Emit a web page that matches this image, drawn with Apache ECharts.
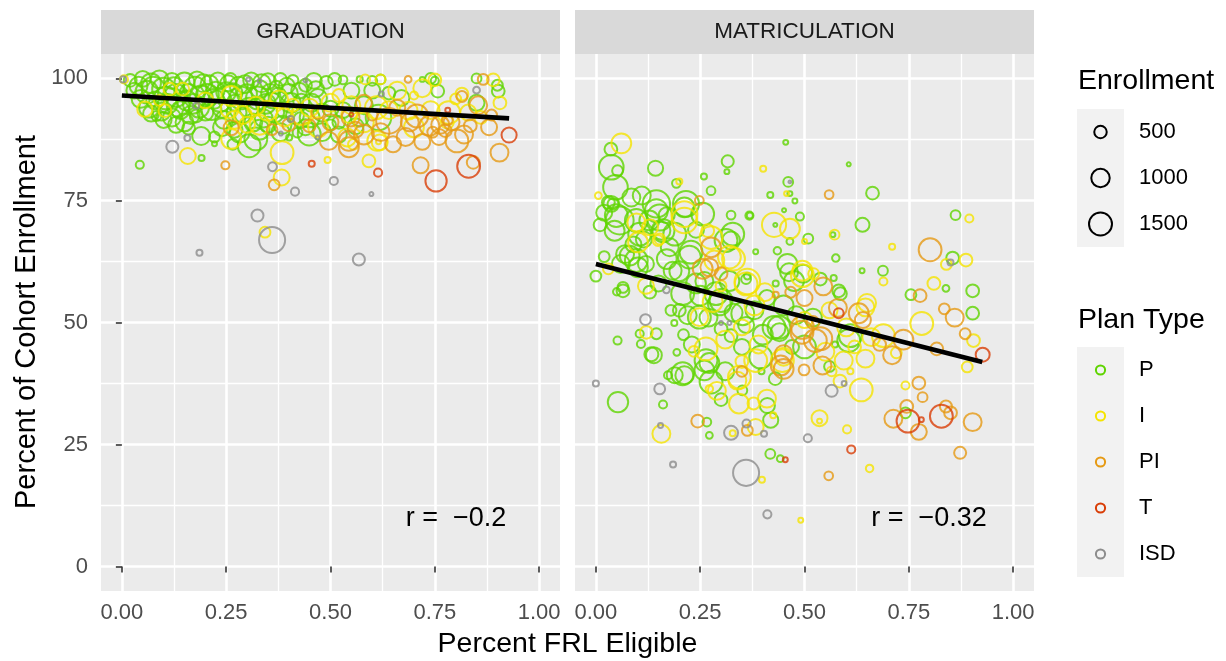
<!DOCTYPE html>
<html><head><meta charset="utf-8">
<script src="https://cdn.jsdelivr.net/npm/echarts@6/dist/echarts.min.js"></script>
<style>html,body{margin:0;padding:0;background:#fff;}#c{width:1226px;height:661px;}</style>
</head><body><div id="c"></div>
<script>
// ---------- data ----------
const panels = ['GRADUATION', 'MATRICULATION'];
const planTypes = ['P', 'I', 'PI', 'T', 'ISD'];
const xTicks = [0, 0.25, 0.5, 0.75, 1];
const xMinorTicks = [0.125, 0.375, 0.625, 0.875];
const yTicks = [0, 25, 50, 75, 100];
const yMinorTicks = [12.5, 37.5, 62.5, 87.5];
const sizeBreaks = [500, 1000, 1500];
const rValues = [-0.2, -0.32];

// [percent FRL eligible, percent of cohort, enrollment]
const gradP = [[0.02,99.6,520],[0.04,98.5,950],[0.05,99.9,770],[0.06,97.2,1480],[0.07,99.0,1140],[0.08,95.5,950],[0.09,99.8,950],[0.10,97.8,1480],[0.11,94.8,1140],[0.12,99.5,770],[0.13,96.5,1480],[0.14,93.5,950],[0.15,99.2,1140],[0.16,97.0,950],[0.17,94.8,1140],[0.18,99.8,770],[0.19,96.2,1480],[0.20,93.0,770],[0.21,98.8,950],[0.22,95.8,1140],[0.23,99.6,770],[0.24,93.8,950],[0.25,97.2,1140],[0.26,99.8,520],[0.27,95.0,770],[0.28,98.5,950],[0.29,92.5,770],[0.30,96.8,1140],[0.31,99.6,770],[0.32,94.2,770],[0.33,97.8,950],[0.34,91.8,950],[0.35,99.4,770],[0.36,95.5,770],[0.37,98.2,520],[0.38,99.8,520],[0.39,93.5,770],[0.40,97.0,950],[0.41,99.6,390],[0.43,95.2,770],[0.44,98.6,520],[0.45,92.0,1140],[0.46,99.5,770],[0.47,96.0,950],[0.49,99.2,520],[0.50,93.8,770],[0.51,99.8,520],[0.53,99.7,270],[0.55,97.5,770],[0.57,99.8,150],[0.58,94.5,950],[0.60,99.5,330],[0.62,99.8,330],[0.615,92.0,1820],[0.64,97.0,520],[0.67,96.0,770],[0.72,99.8,110],[0.74,100,390],[0.757,97.4,520],[0.75,99.5,240],[0.85,100,330],[0.85,95.0,770],[0.902,97.4,520],[0.90,98.6,390],[0.083,92.3,330],[0.178,92.3,520],[0.19,88.2,950],[0.222,88.0,390],[0.222,86.6,110],[0.266,86.5,390],[0.282,88.9,1140],[0.305,86.2,1480],[0.321,87.6,1480],[0.35,90.5,770],[0.401,87.9,150],[0.421,88.9,330],[0.44,90.0,770],[0.449,88.6,1480],[0.52,91.0,520],[0.43,91.5,770],[0.56,90.2,770],[0.50,90.5,390],[0.13,90.5,770],[0.16,89.8,520],[0.10,91.5,770],[0.043,82.3,240],[0.191,83.7,150],[0.03,97.5,770],[0.045,95.8,950],[0.065,94.0,1140],[0.075,98.0,1480],[0.095,93.2,950],[0.105,96.0,1480],[0.125,98.2,1140],[0.135,94.5,1480],[0.155,95.5,1140],[0.165,92.5,950],[0.175,98.0,1480],[0.185,94.0,1140],[0.195,99.0,950],[0.205,96.5,1480],[0.215,93.5,1140],[0.225,97.5,950],[0.235,95.5,1480],[0.245,91.5,950],[0.255,99.0,770],[0.265,97.0,1140],[0.275,93.0,1140],[0.285,96.0,1480],[0.295,98.8,950],[0.305,94.0,1140],[0.315,91.0,950],[0.325,96.0,1480],[0.335,99.0,950],[0.345,94.8,1140],[0.355,97.0,950],[0.365,93.0,1140],[0.375,96.5,770],[0.385,90.5,950],[0.395,98.5,770],[0.405,95.0,1140],[0.415,92.5,950],[0.425,97.5,770],[0.455,95.0,950],[0.465,97.8,770],[0.48,93.0,950],[0.12,92.0,950],[0.07,92.8,770],[0.15,91.0,950],[0.24,90.0,950],[0.33,89.5,1140],[0.38,89.0,950],[0.27,89.5,770],[0.48,89.0,950],[0.53,93.5,770],[0.60,97.5,770],[0.57,92.0,950],[0.52,88.5,770]];
const gradI = [[0.005,99.8,240],[0.055,93.7,700],[0.103,93.4,520],[0.115,97.8,520],[0.146,97.8,520],[0.09,95.5,390],[0.262,96.4,1140],[0.258,93.7,950],[0.29,92.5,950],[0.321,94.4,950],[0.349,93.4,1140],[0.377,95.7,950],[0.39,92.0,950],[0.41,94.5,520],[0.43,92.5,1140],[0.50,95.0,950],[0.52,96.5,520],[0.54,87.9,950],[0.555,86.5,390],[0.583,99.8,330],[0.62,99.8,330],[0.61,94.0,1480],[0.612,87.2,1140],[0.615,87.0,110],[0.66,97.5,950],[0.687,93.4,950],[0.70,96.5,240],[0.72,98.0,950],[0.75,99.7,520],[0.783,93.0,1480],[0.78,91.0,520],[0.80,95.8,390],[0.815,96.8,520],[0.89,99.7,520],[0.906,95.0,520],[0.158,84.1,770],[0.343,68.5,390],[0.383,79.7,770],[0.384,84.8,1480],[0.493,83.3,150],[0.592,83.1,520],[0.618,86.9,770],[0.262,87.6,1140],[0.30,90.5,770],[0.545,92.5,770],[0.27,91.5,950],[0.33,90.5,1140],[0.45,94.0,950],[0.47,90.0,1140],[0.55,94.5,950],[0.58,91.0,1140],[0.64,93.5,950],[0.70,90.0,1140],[0.74,93.5,950],[0.83,93.0,770],[0.86,92.0,520],[0.20,95.5,770]];
const gradPI = [[0.248,82.2,240],[0.262,89.9,700],[0.365,78.2,390],[0.449,90.3,520],[0.496,87.2,950],[0.548,92.0,950],[0.544,87.2,1140],[0.544,85.9,1140],[0.60,92.5,390],[0.64,91.3,1820],[0.66,94.0,770],[0.686,99.8,180],[0.69,91.0,950],[0.707,92.3,1480],[0.716,82.2,770],[0.737,90.3,1140],[0.745,89.0,390],[0.763,90.5,950],[0.775,89.3,520],[0.78,91.5,390],[0.803,87.2,1480],[0.835,90.3,520],[0.842,82.8,520],[0.854,94.5,950],[0.866,99.8,390],[0.886,92.5,390],[0.905,84.8,950],[0.815,96.3,390],[0.50,91.0,770],[0.47,93.0,520],[0.40,90.5,520],[0.36,89.5,390],[0.58,95.0,770],[0.56,89.5,770],[0.62,89.0,950],[0.68,88.0,950],[0.72,87.0,770],[0.76,88.0,770],[0.79,91.0,770],[0.82,88.5,950],[0.88,90.0,770],[0.58,88.5,1140],[0.65,86.5,770]];
const gradT = [[0.455,82.5,150],[0.614,80.7,240],[0.753,79.0,1300],[0.831,82.0,1480],[0.928,88.4,700],[0.781,93.5,110],[0.55,92.6,80]];
const gradISD = [[0.003,99.8,150],[0.121,86.0,470],[0.157,87.8,150],[0.178,94.4,150],[0.303,99.8,80],[0.33,99.5,80],[0.361,81.9,280],[0.381,88.7,80],[0.405,91.7,150],[0.415,76.8,240],[0.469,87.9,80],[0.508,79.0,240],[0.598,76.3,80],[0.622,96.8,110],[0.85,97.6,180],[0.325,71.9,470],[0.36,66.9,1890],[0.186,64.3,150],[0.568,62.9,470],[0.44,99.6,80]];

const matP = [[0.036,85.5,520],[0.037,81.8,1700],[0.052,81.1,390],[0.143,81.6,700],[0.047,77.7,1700],[0.316,83.0,470],[0.314,80.9,110],[0.455,86.9,110],[0.193,78.5,270],[0.259,79.9,150],[0.276,77.0,270],[0.461,78.8,330],[0.418,76.1,150],[0.465,76.4,110],[0.477,74.9,110],[0.606,82.4,80],[0.663,76.5,520],[0.451,73.0,80],[0.369,71.9,150],[0.324,72.0,270],[0.43,70.0,80],[0.489,71.7,240],[0.465,66.6,180],[0.509,67.2,330],[0.568,68.0,110],[0.639,70.0,610],[0.862,72.0,330],[0.855,63.2,520],[0.638,60.6,110],[0.688,60.6,330],[0.839,57.0,180],[0.903,56.5,520],[0.755,55.7,390],[0.903,51.9,520],[0.586,55.9,520],[0.57,59.1,150],[0.575,63.2,210],[0.538,58.9,520],[0.497,60.0,950],[0.459,62.0,1140],[0.475,58.5,1140],[0.431,58.0,150],[0.383,64.5,110],[0.435,64.7,210],[0.363,59.5,180],[0.037,74.3,770],[0.03,74.6,520],[0.049,71.9,1480],[0.045,68.8,1140],[0.085,75.6,950],[0.097,70.9,1480],[0.101,61.3,1140],[0.145,74.3,2070],[0.128,70.9,1140],[0.157,68.8,950],[0.212,73.6,1140],[0.189,68.1,1480],[0.228,64.4,1480],[0.324,66.8,950],[0.07,64.0,950],[0.0,59.5,390],[0.065,56.5,520],[0.05,56.3,210],[0.129,56.2,520],[0.18,52.5,390],[0.20,52.5,520],[0.22,51.5,950],[0.30,54.5,1480],[0.188,49.9,150],[0.052,46.3,240],[0.105,47.7,240],[0.108,45.6,240],[0.145,47.7,390],[0.139,43.3,770],[0.133,43.5,610],[0.194,43.9,180],[0.21,47.5,390],[0.272,41.7,1140],[0.30,48.7,520],[0.324,47.3,520],[0.173,39.2,240],[0.189,39.2,770],[0.212,39.2,950],[0.26,40.2,1140],[0.276,37.8,1480],[0.161,33.2,240],[0.053,33.7,1200],[0.30,34.2,520],[0.351,36.1,330],[0.411,33.0,700],[0.419,30.0,700],[0.266,29.6,270],[0.272,26.9,180],[0.418,23.1,330],[0.442,22.1,180],[0.742,31.5,390],[0.61,47.3,1480],[0.573,45.5,150],[0.395,42.9,1480],[0.397,40.0,150],[0.427,49.0,1480],[0.44,48.0,950],[0.47,45.0,610],[0.56,41.0,390],[0.25,55.5,1140],[0.27,51.0,950],[0.33,52.0,950],[0.36,49.5,770],[0.38,52.5,950],[0.12,62.0,770],[0.09,66.0,770],[0.20,60.5,1140],[0.15,58.0,770],[0.26,58.5,950],[0.02,72.5,770],[0.01,70.0,520],[0.06,62.0,950],[0.115,67.0,770],[0.17,72.0,770],[0.24,69.0,770],[0.02,63.5,390],[0.45,53.5,1140],[0.41,55.0,770],[0.48,51.5,950],[0.041,74.3,390],[0.057,70.9,2160],[0.105,68.1,1480],[0.081,63.7,1140],[0.097,62.7,1480],[0.145,72.9,1480],[0.153,71.5,1880],[0.161,68.8,1480],[0.177,65.4,950],[0.216,74.3,1880],[0.224,63.4,1480],[0.184,60.6,950],[0.256,72.2,1480],[0.312,66.8,1480],[0.368,71.9,240],[0.36,58.9,330],[0.065,57.2,390],[0.208,55.9,1480],[0.296,53.8,1480],[0.248,51.1,1480],[0.288,55.9,1480],[0.352,51.8,1480],[0.463,60.3,950],[0.439,49.0,1480],[0.582,56.5,520],[0.606,46.3,1480],[0.264,42.2,1480],[0.208,39.5,1480],[0.328,68.1,1480],[0.11,76.0,950],[0.17,63.0,1140],[0.24,58.0,1140],[0.32,58.5,1140],[0.40,47.5,1140],[0.50,45.0,1480],[0.35,45.0,770],[0.31,40.0,950],[0.23,45.5,770],[0.43,38.5,520],[0.52,51.0,950]];
const matI = [[0.061,86.7,1140],[0.401,81.5,150],[0.20,78.9,150],[0.006,76.0,180],[0.457,76.4,110],[0.427,70.0,1640],[0.465,69.2,1140],[0.50,66.6,110],[0.572,68.0,330],[0.895,71.3,240],[0.71,65.5,150],[0.887,62.8,520],[0.84,61.9,390],[0.689,58.4,240],[0.81,58.0,520],[0.781,49.8,1480],[0.522,60.0,390],[0.495,59.6,1480],[0.363,58.4,1820],[0.405,56.2,950],[0.38,53.5,1140],[0.646,53.1,950],[0.097,70.5,950],[0.101,66.4,1140],[0.149,66.8,390],[0.212,70.9,1820],[0.268,68.8,520],[0.284,62.7,1140],[0.33,63.0,1480],[0.28,54.2,1140],[0.121,48.0,520],[0.235,44.1,390],[0.264,44.6,1480],[0.31,46.5,950],[0.272,36.4,210],[0.339,38.1,950],[0.343,33.4,1140],[0.378,33.4,470],[0.41,34.4,950],[0.425,31.0,150],[0.157,27.2,950],[0.328,27.3,150],[0.383,28.6,770],[0.536,30.4,770],[0.536,29.8,110],[0.602,28.1,240],[0.398,17.8,150],[0.656,20.1,210],[0.491,9.5,110],[0.636,36.2,1480],[0.565,40.0,330],[0.742,37.1,240],[0.905,46.3,520],[0.89,40.9,390],[0.72,43.8,390],[0.689,47.3,1480],[0.66,47.0,950],[0.646,42.6,950],[0.62,45.0,520],[0.594,42.2,950],[0.61,40.0,150],[0.585,38.0,520],[0.39,45.5,950],[0.35,42.0,520],[0.50,50.5,770],[0.45,43.0,950],[0.65,54.0,950],[0.35,49.0,770],[0.30,57.5,390],[0.03,61.0,390],[0.12,57.5,770],[0.13,69.5,770],[0.153,67.1,390],[0.212,72.2,1880],[0.276,67.4,1480],[0.32,63.4,1480],[0.248,51.1,950],[0.36,57.9,1480],[0.495,60.6,1140],[0.447,42.2,1480],[0.383,42.2,1480],[0.344,38.8,1480],[0.29,36.0,950],[0.55,44.0,950],[0.60,49.0,950],[0.56,52.5,770]];
const matPI = [[0.248,75.0,270],[0.559,76.2,270],[0.801,64.9,1480],[0.777,55.5,520],[0.835,52.8,390],[0.86,51.0,950],[0.545,57.4,950],[0.431,55.7,150],[0.467,56.2,390],[0.63,51.9,1140],[0.64,50.5,770],[0.276,65.4,1140],[0.256,61.0,1140],[0.244,29.8,520],[0.363,27.9,390],[0.558,18.6,270],[0.873,23.3,470],[0.774,37.6,520],[0.783,34.7,330],[0.745,32.8,520],[0.713,30.3,950],[0.774,27.6,770],[0.839,32.8,470],[0.85,31.5,520],[0.903,29.6,950],[0.885,47.7,390],[0.737,46.5,1140],[0.817,44.6,520],[0.71,43.3,950],[0.68,45.5,520],[0.539,46.7,1480],[0.543,41.2,950],[0.499,40.3,390],[0.494,48.0,1480],[0.443,41.2,1140],[0.45,43.5,950],[0.35,40.0,390],[0.50,55.0,770],[0.30,60.0,520],[0.272,61.3,950],[0.495,49.0,1480],[0.526,46.3,1480],[0.45,40.5,1140],[0.52,50.0,520],[0.58,53.0,950]];
const matT = [[0.582,51.9,330],[0.927,43.4,610],[0.748,29.8,1480],[0.78,30.1,110],[0.828,30.8,1480],[0.612,24.0,240],[0.454,21.9,110]];
const matISD = [[0.465,78.8,50],[0.85,62.3,150],[0.169,56.7,180],[0.119,50.6,390],[0.30,49.9,80],[0.32,49.9,80],[0.0,37.5,150],[0.153,36.4,390],[0.155,28.9,110],[0.324,27.4,610],[0.361,29.3,240],[0.403,27.2,150],[0.508,26.3,240],[0.185,20.9,150],[0.36,19.2,1890],[0.411,10.7,240],[0.565,36.0,470],[0.595,37.5,110]];

// regression line endpoints per panel
const gradFit = [[0, 96.5], [0.928, 91.8]];
const matFit = [[0, 62.0], [0.926, 41.9]];

// ---------- styling ----------
const FONT = '"Liberation Sans", Arial, Helvetica, sans-serif';
const planColors = { P: '#5FD400', I: '#F5E400', PI: '#E69A14', T: '#D93D06', ISD: '#8C8C8C' };
const STROKE = 2.0;
function outerDiameter(enr) { return Math.sqrt(0.415 * enr + 2.5); }

const panelData = [
  { P: gradP, I: gradI, PI: gradPI, T: gradT, ISD: gradISD, fit: gradFit },
  { P: matP, I: matI, PI: matPI, T: matT, ISD: matISD, fit: matFit }
];

const G = [{ left: 101, top: 54, width: 459, height: 537 }, { left: 575, top: 54, width: 459, height: 537 }];

const grids = G.map(g => ({ left: g.left, top: g.top, width: g.width, height: g.height, show: true, backgroundColor: '#EBEBEB', borderWidth: 0, containLabel: false }));

const xAxes = [], yAxes = [];
G.forEach((g, gi) => {
  xAxes.push({ gridIndex: gi, type: 'value', min: -0.05, max: 1.05,
    axisLine: { show: false },
    axisTick: { show: true, length: 6, lineStyle: { color: '#333333', width: 1.6 }, customValues: xTicks },
    axisLabel: { show: true, customValues: xTicks, formatter: v => v.toFixed(2), color: '#4D4D4D', fontSize: 22, fontFamily: FONT, margin: 11 },
    splitLine: { show: true, lineStyle: { color: '#FFFFFF', width: 2.6 } } });
  xAxes.push({ gridIndex: gi, type: 'value', min: -0.05, max: 1.05,
    axisLine: { show: false },
    axisTick: { show: false, customValues: xMinorTicks },
    axisLabel: { show: false, customValues: xMinorTicks },
    splitLine: { show: true, lineStyle: { color: '#FFFFFF', width: 1.3 } } });
  yAxes.push({ gridIndex: gi, type: 'value', min: -5, max: 105,
    axisLine: { show: false },
    axisTick: { show: gi === 0, length: 6, lineStyle: { color: '#333333', width: 1.6 }, customValues: yTicks },
    axisLabel: { show: gi === 0, customValues: yTicks, color: '#4D4D4D', fontSize: 22, fontFamily: FONT, margin: 13 },
    splitLine: { show: true, lineStyle: { color: '#FFFFFF', width: 2.6 } } });
  yAxes.push({ gridIndex: gi, type: 'value', min: -5, max: 105,
    axisLine: { show: false },
    axisTick: { show: false, customValues: yMinorTicks },
    axisLabel: { show: false, customValues: yMinorTicks },
    splitLine: { show: true, lineStyle: { color: '#FFFFFF', width: 1.3 } } });
});

const series = [];
panelData.forEach((pd, gi) => {
  planTypes.forEach(pt => {
    series.push({ type: 'scatter', name: pt, xAxisIndex: gi * 2, yAxisIndex: gi * 2, data: pd[pt],
      symbol: 'circle', symbolSize: v => Math.max(outerDiameter(v[2]) - STROKE, 1),
      itemStyle: { color: 'rgba(0,0,0,0)', borderColor: planColors[pt], borderWidth: STROKE },
      emphasis: { disabled: true }, silent: true, z: 2 });
  });
  series.push({ type: 'line', xAxisIndex: gi * 2, yAxisIndex: gi * 2, data: pd.fit, symbol: 'none',
    lineStyle: { color: '#000000', width: 4.7 }, silent: true, z: 5 });
});

// ---------- annotations / legend ----------
const graphic = [];
G.forEach((g, gi) => {
  graphic.push({ type: 'rect', shape: { x: g.left, y: 10, width: g.width, height: 44 }, style: { fill: '#D9D9D9' }, silent: true });
  graphic.push({ type: 'text', x: g.left + g.width / 2, y: 32, style: { text: panels[gi], font: '22.5px ' + FONT, fill: '#1A1A1A', align: 'center', verticalAlign: 'middle' }, silent: true });
});
const rPos = [[456, 519], [929, 519]];
rValues.forEach((r, i) => {
  graphic.push({ type: 'text', x: rPos[i][0], y: rPos[i][1], style: { text: 'r =  \u2212' + String(Math.abs(r)), font: '27px ' + FONT, fill: '#000', align: 'center', verticalAlign: 'middle' }, silent: true, z: 10 });
});
graphic.push({ type: 'text', x: 567.5, y: 644, style: { text: 'Percent FRL Eligible', font: '28.5px ' + FONT, fill: '#000', align: 'center', verticalAlign: 'middle' }, silent: true });
graphic.push({ type: 'text', x: 27, y: 322, rotation: Math.PI / 2, style: { text: 'Percent of Cohort Enrollment', font: '29px ' + FONT, fill: '#000', align: 'center', verticalAlign: 'middle' }, silent: true });

// size legend
graphic.push({ type: 'text', x: 1078, y: 81, style: { text: 'Enrollment', font: '28.5px ' + FONT, fill: '#000', align: 'left', verticalAlign: 'middle' }, silent: true });
graphic.push({ type: 'rect', shape: { x: 1077, y: 109, width: 47, height: 138 }, style: { fill: '#F2F2F2' }, silent: true });
sizeBreaks.forEach((s, i) => {
  const cy = 132 + i * 46;
  graphic.push({ type: 'circle', shape: { cx: 1100.5, cy: cy, r: (outerDiameter(s) - STROKE) / 2 }, style: { fill: 'none', stroke: '#000', lineWidth: STROKE }, silent: true });
  graphic.push({ type: 'text', x: 1139, y: cy, style: { text: String(s), font: '22px ' + FONT, fill: '#000', align: 'left', verticalAlign: 'middle' }, silent: true });
});
// plan type legend
graphic.push({ type: 'text', x: 1078, y: 320, style: { text: 'Plan Type', font: '28.5px ' + FONT, fill: '#000', align: 'left', verticalAlign: 'middle' }, silent: true });
graphic.push({ type: 'rect', shape: { x: 1077, y: 347, width: 47, height: 230 }, style: { fill: '#F2F2F2' }, silent: true });
planTypes.forEach((pt, i) => {
  const cy = 370 + i * 46;
  graphic.push({ type: 'circle', shape: { cx: 1100.5, cy: cy, r: 4.6 }, style: { fill: 'none', stroke: planColors[pt], lineWidth: STROKE }, silent: true });
  graphic.push({ type: 'text', x: 1139, y: cy, style: { text: pt, font: '22px ' + FONT, fill: '#000', align: 'left', verticalAlign: 'middle' }, silent: true });
});

const chart = echarts.init(document.getElementById('c'), null, { renderer: 'canvas' });
chart.setOption({
  animation: false,
  backgroundColor: '#FFFFFF',
  textStyle: { fontFamily: FONT },
  grid: grids,
  xAxis: xAxes,
  yAxis: yAxes,
  series: series,
  graphic: graphic
});
</script>
</body></html>
